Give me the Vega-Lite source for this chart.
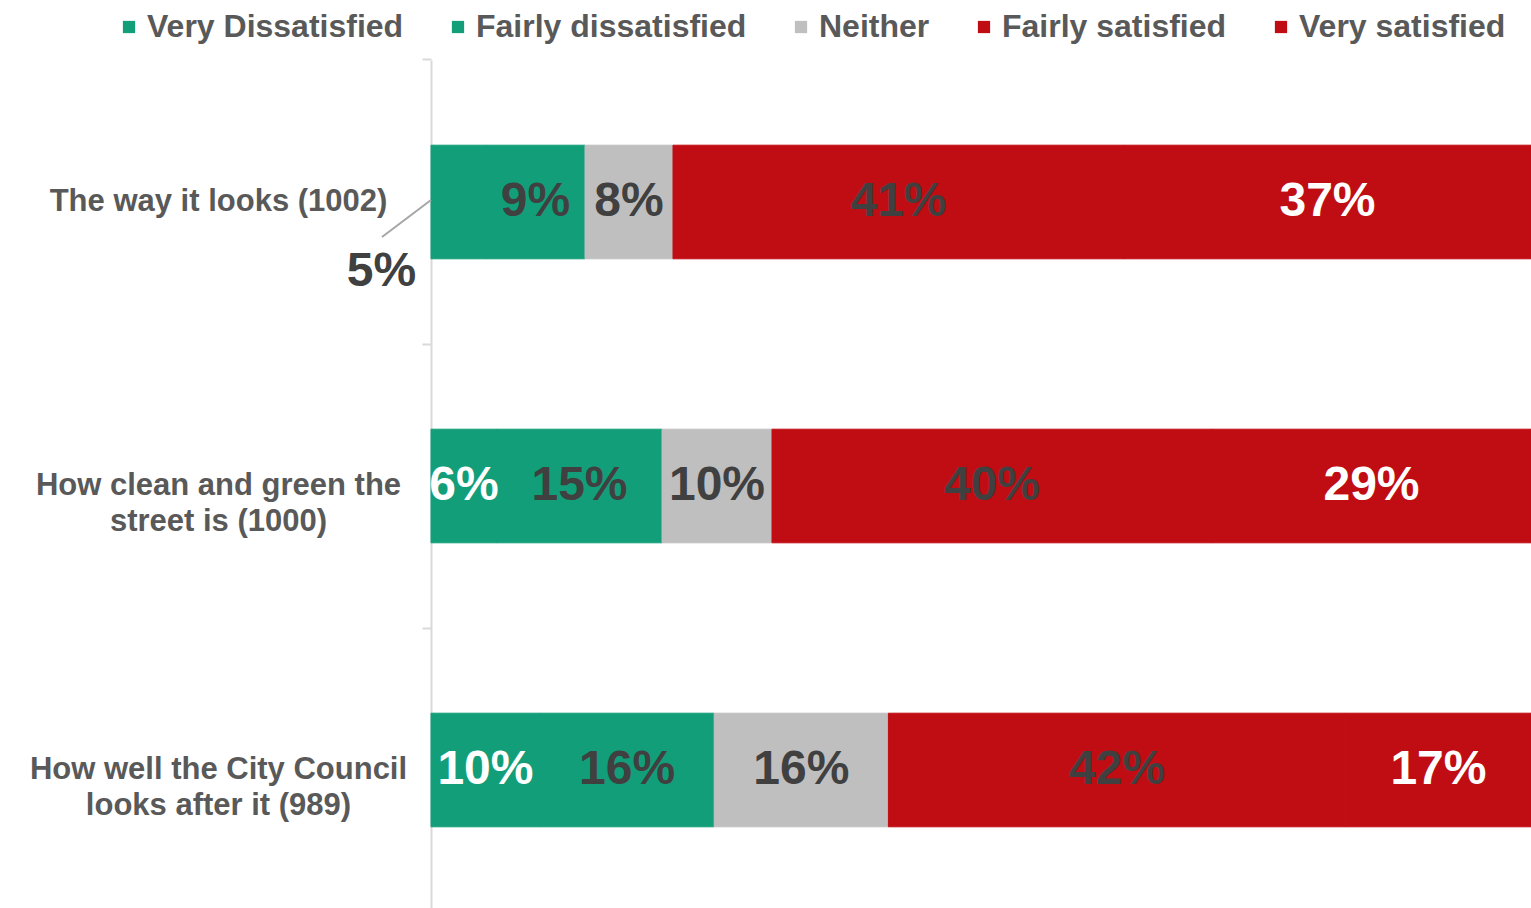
{
  "$schema": "https://vega.github.io/schema/vega-lite/v6.json",
  "width": 1100,
  "height": 852,
  "autosize": {"type": "none"},
  "padding": {"left": 431, "top": 60, "right": 0, "bottom": 0},
  "background": "white",
  "config": {"view": {"stroke": null}, "font": "Liberation Sans"},
  "data": {
    "values": [
      {"category": "The way it looks (1002)", "response": "Very Dissatisfied", "order": 1, "value": 5},
      {"category": "The way it looks (1002)", "response": "Fairly dissatisfied", "order": 2, "value": 9},
      {"category": "The way it looks (1002)", "response": "Neither", "order": 3, "value": 8},
      {"category": "The way it looks (1002)", "response": "Fairly satisfied", "order": 4, "value": 41},
      {"category": "The way it looks (1002)", "response": "Very satisfied", "order": 5, "value": 37},
      {"category": "How clean and green the|street is (1000)", "response": "Very Dissatisfied", "order": 1, "value": 6},
      {"category": "How clean and green the|street is (1000)", "response": "Fairly dissatisfied", "order": 2, "value": 15},
      {"category": "How clean and green the|street is (1000)", "response": "Neither", "order": 3, "value": 10},
      {"category": "How clean and green the|street is (1000)", "response": "Fairly satisfied", "order": 4, "value": 40},
      {"category": "How clean and green the|street is (1000)", "response": "Very satisfied", "order": 5, "value": 29},
      {"category": "How well the City Council|looks after it (989)", "response": "Very Dissatisfied", "order": 1, "value": 10},
      {"category": "How well the City Council|looks after it (989)", "response": "Fairly dissatisfied", "order": 2, "value": 16},
      {"category": "How well the City Council|looks after it (989)", "response": "Neither", "order": 3, "value": 16},
      {"category": "How well the City Council|looks after it (989)", "response": "Fairly satisfied", "order": 4, "value": 42},
      {"category": "How well the City Council|looks after it (989)", "response": "Very satisfied", "order": 5, "value": 17}
    ]
  },
  "transform": [
    {"stack": "value", "groupby": ["category"], "sort": [{"field": "order"}], "offset": "normalize", "as": ["x0", "x1"]},
    {"calculate": "(datum.x0 + datum.x1) / 2", "as": "xmid"},
    {"calculate": "datum.value + '%'", "as": "label"}
  ],
  "encoding": {
    "y": {
      "field": "category",
      "type": "nominal",
      "sort": null,
      "scale": {"paddingInner": 0.6, "paddingOuter": 0.3},
      "axis": {
        "title": null,
        "labelExpr": "split(datum.label, '|')",
        "labelFont": "Liberation Sans",
        "labelFontSize": 31,
        "labelFontWeight": "bold",
        "labelColor": "#595959",
        "labelAlign": "center",
        "labelBaseline": "middle",
        "labelPadding": 204,
        "labelLimit": 500,
        "labelLineHeight": 36,
        "domainColor": "#d9d9d9",
        "domainWidth": 2,
        "tickColor": "#d9d9d9",
        "tickWidth": 2,
        "tickSize": 9,
        "bandPosition": -0.75
      }
    }
  },
  "layer": [
    {
      "mark": {"type": "bar", "strokeWidth": 1},
      "encoding": {
        "x": {"field": "x0", "type": "quantitative", "scale": {"domain": [0, 1], "nice": false, "zero": false}, "axis": null},
        "x2": {"field": "x1"},
        "stroke": {
          "field": "response",
          "type": "nominal",
          "scale": {
            "domain": ["Very Dissatisfied", "Fairly dissatisfied", "Neither", "Fairly satisfied", "Very satisfied"],
            "range": ["#139e7a", "#139e7a", "#bfbfbf", "#c00d13", "#c00d13"]
          },
          "legend": null
        },
        "color": {
          "field": "response",
          "type": "nominal",
          "scale": {
            "domain": ["Very Dissatisfied", "Fairly dissatisfied", "Neither", "Fairly satisfied", "Very satisfied"],
            "range": ["#139e7a", "#139e7a", "#bfbfbf", "#c00d13", "#c00d13"]
          },
          "legend": {
            "orient": "none",
            "direction": "horizontal",
            "legendX": -318,
            "legendY": -49,
            "title": null,
            "symbolType": "square",
            "symbolSize": 150,
            "symbolStrokeWidth": 0,
            "labelFont": "Liberation Sans",
            "labelFontSize": 32,
            "labelFontWeight": "bold",
            "labelColor": "#595959",
            "labelOffset": 2,
            "labelLimit": 500,
            "columnPadding": 38
          }
        }
      }
    },
    {
      "transform": [{"filter": "!(datum.category == 'The way it looks (1002)' && datum.order == 1)"}],
      "mark": {"type": "text", "fontSize": 48, "fontWeight": "bold", "align": "center", "baseline": "middle", "font": "Liberation Sans"},
      "encoding": {
        "x": {"field": "xmid", "type": "quantitative"},
        "text": {"field": "label"},
        "color": {
          "condition": {"test": "datum.response == 'Very Dissatisfied' || datum.response == 'Very satisfied'", "value": "#ffffff"},
          "value": "#404040"
        }
      }
    },
    {
      "transform": [{"filter": "datum.category == 'The way it looks (1002)' && datum.order == 1"}],
      "mark": {"type": "text", "fontSize": 48, "fontWeight": "bold", "align": "center", "baseline": "middle", "font": "Liberation Sans", "color": "#404040", "dx": -77, "dy": 70},
      "encoding": {
        "x": {"field": "xmid", "type": "quantitative"},
        "text": {"field": "label"}
      }
    },
    {
      "transform": [{"filter": "datum.category == 'The way it looks (1002)' && datum.order == 1"}],
      "mark": {"type": "rule", "color": "#a6a6a6", "strokeWidth": 2, "yOffset": -2, "x2Offset": -49, "y2Offset": 35},
      "encoding": {
        "x": {"field": "x0", "type": "quantitative"},
        "x2": {"field": "x0"},
        "y2": {"field": "category"}
      }
    }
  ]
}
